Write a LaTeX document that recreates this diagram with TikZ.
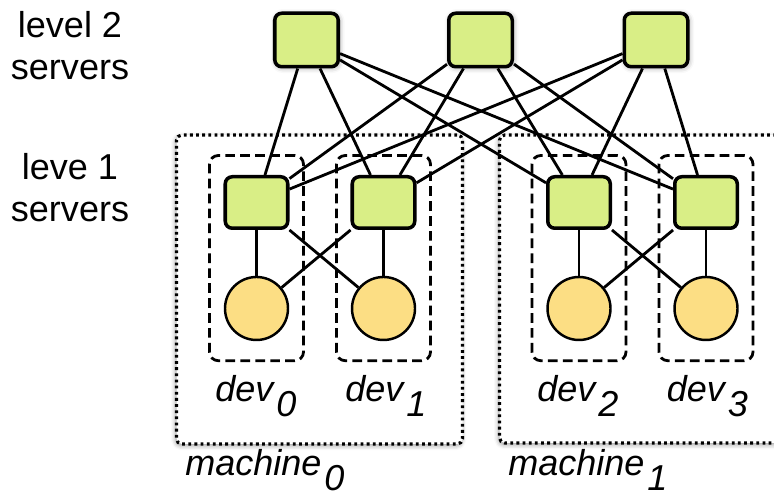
\documentclass[tikz,border=0pt]{standalone}
\usepackage{fontspec}
\setmainfont{Liberation Sans}
\usetikzlibrary{positioning,fit,backgrounds,shadows.blur}
\definecolor{servergreen}{RGB}{217,238,134}
\definecolor{devyellow}{RGB}{252,222,132}
\newcommand{\lsub}[1]{\kern0.08em\raisebox{-0.42em}{#1}}
\tikzset{% 
  server/.style={%
    draw,
    line width=2pt,
    rounded corners=4pt,
    fill=servergreen,
    minimum width=1.25cm,
    minimum height=1.03cm,
    inner sep=0pt
  }
}
\tikzset{% 
  top server/.style={%
    server,
    minimum width=1.27cm,
    minimum height=1.07cm,
    blur shadow={shadow xshift=0.6pt, shadow yshift=-0.6pt, shadow blur radius=3pt}
  }
}
\tikzset{% 
  gpu/.style={%
    circle,
    draw,
    line width=1.4pt,
    fill=devyellow,
    minimum size=1.26cm,
    inner sep=0pt
  }
}
\tikzset{% 
  devbox/.style={%
    draw,
    line width=1.6pt,
    dash pattern=on 5.5pt off 3pt,
    rounded corners=5pt,
    inner xsep=0.28cm,
    inner ysep=0.39cm
  }
}
\tikzset{% 
  machinebox/.style={%
    draw,
    fill=white,
    line width=1.8pt,
    dash pattern=on 1.6pt off 1.9pt,
    rounded corners=3pt,
    inner sep=0pt,
    blur shadow={shadow xshift=-0.5pt, shadow yshift=-1pt, shadow blur radius=2.5pt}
  }
}
\tikzset{% 
  link/.style={%
    line width=1.6pt
  }
}
\tikzset{% 
  caption/.style={%
    font=\fontsize{20.5}{24}\selectfont,
    inner sep=0pt
  }
}

\begin{document}
\begin{tikzpicture}
  \useasboundingbox (0,0) rectangle (15.48,9.94);
  % level 2
  \node[top server] (top0) at (6.13, 9.14) {};
  \node[top server] (top1) at (9.61, 9.14) {};
  \node[top server] (top2) at (13.12, 9.14) {};
  % level 1
  \node[server] (ps0) at (5.13, 5.89) {};
  \node[server] (ps1) at (7.67, 5.89) {};
  \node[server] (ps2) at (11.58, 5.89) {};
  \node[server] (ps3) at (14.12, 5.89) {};
  % devices
  \node[gpu] (gpu0) at (5.13, 3.77) {};
  \node[gpu] (gpu1) at (7.67, 3.77) {};
  \node[gpu] (gpu2) at (11.58, 3.77) {};
  \node[gpu] (gpu3) at (14.12, 3.77) {};
  % labels
  \node[caption, align=center] (lvl2) at (1.4, 9.03) {level 2\\servers};
  \node[caption, align=center] (lvl1) at (1.4, 6.18) {leve 1\\servers};
  \node[caption, anchor=base west] (dev0) at (4.3, 1.91) {\textit{dev\lsub{0}}};
  \node[caption, anchor=base west] (dev1) at (6.9, 1.91) {\textit{dev\lsub{1}}};
  \node[caption, anchor=base west] (dev2) at (10.74, 1.91) {\textit{dev\lsub{2}}};
  \node[caption, anchor=base west] (dev3) at (13.33, 1.91) {\textit{dev\lsub{3}}};
  \node[caption, anchor=base west] (mach0) at (3.7, 0.43) {\textit{machine\lsub{0}}};
  \node[caption, anchor=base west] (mach1) at (10.16, 0.43) {\textit{machine\lsub{1}}};
  \begin{pgfonlayer}{background}
    \node[machinebox, fit={(3.53,1.06) (9.25,7.24)}] (m0) {};
    \node[machinebox, fit={(9.99,1.08) (15.75,7.24)}] (m1) {};
    \node[devbox, fit=(ps0) (gpu0)] (box0) {};
    \node[devbox, fit=(ps1) (gpu1)] (box1) {};
    \node[devbox, fit=(ps2) (gpu2)] (box2) {};
    \node[devbox, fit=(ps3) (gpu3)] (box3) {};
    \draw[link] (top0) -- (ps0);
    \draw[link] (top0) -- (ps1);
    \draw[link] (top0) -- (ps2);
    \draw[link] (top0) -- (ps3);
    \draw[link] (top1) -- (ps0);
    \draw[link] (top1) -- (ps1);
    \draw[link] (top1) -- (ps2);
    \draw[link] (top1) -- (ps3);
    \draw[link] (top2) -- (ps0);
    \draw[link] (top2) -- (ps1);
    \draw[link] (top2) -- (ps2);
    \draw[link] (top2) -- (ps3);
    \draw[link] (ps0) -- (gpu0);
    \draw[link] (ps0) -- (gpu1);
    \draw[link] (ps1) -- (gpu0);
    \draw[link] (ps1) -- (gpu1);
    \draw[link] (ps2) -- (gpu2);
    \draw[link] (ps2) -- (gpu3);
    \draw[link] (ps3) -- (gpu2);
    \draw[link] (ps3) -- (gpu3);
  \end{pgfonlayer}
\end{tikzpicture}
\end{document}
